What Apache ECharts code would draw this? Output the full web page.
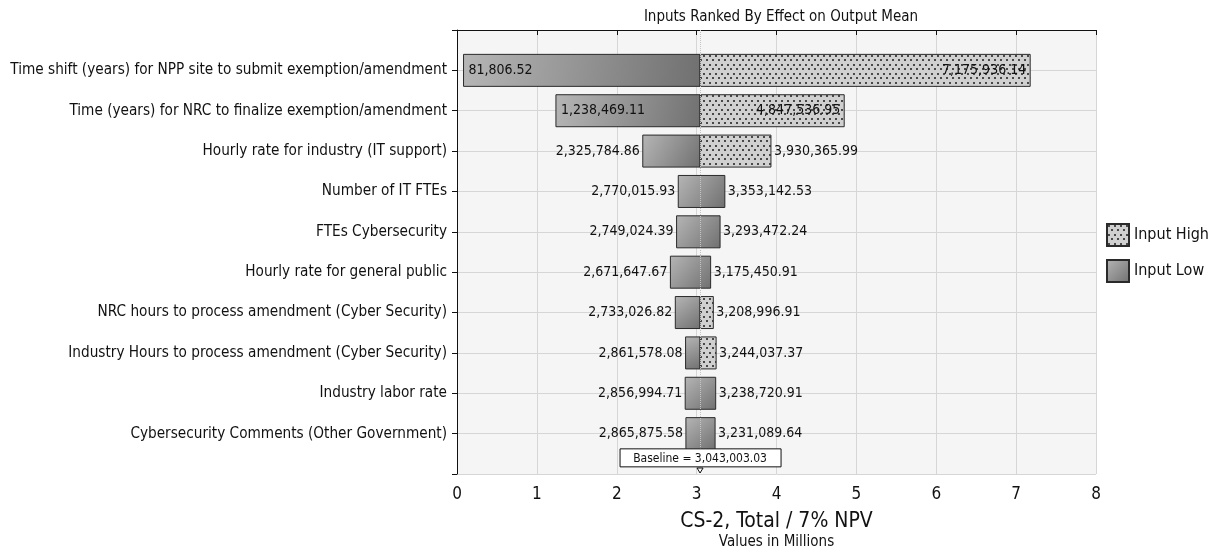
<!DOCTYPE html>
<html>
<head>
<meta charset="utf-8">
<script src="https://cdn.jsdelivr.net/npm/echarts@6/dist/echarts.min.js"></script>
</head>
<body style="margin:0; background:#fff">
<div id="container" style="width:1219px; height:548px;"></div>
<script>
// inputs, top to bottom
var inputNames = [
    'Time shift (years) for NPP site to submit exemption/amendment',
    'Time (years) for NRC to finalize exemption/amendment',
    'Hourly rate for industry (IT support)',
    'Number of IT FTEs',
    'FTEs Cybersecurity',
    'Hourly rate for general public',
    'NRC hours to process amendment (Cyber Security)',
    'Industry Hours to process amendment (Cyber Security)',
    'Industry labor rate',
    'Cybersecurity Comments (Other Government)'
];
var lowValues = [81806.52, 1238469.11, 2325784.86, 2770015.93, 2749024.39,
    2671647.67, 2733026.82, 2861578.08, 2856994.71, 2865875.58];
var highValues = [7175936.14, 4847536.95, 3930365.99, 3353142.53, 3293472.24,
    3175450.91, 3208996.91, 3244037.37, 3238720.91, 3231089.64];
// which input drives the right-hand end of each bar
var rightSide = ['high', 'high', 'high', 'low', 'low', 'low', 'high', 'high', 'low', 'low'];
var baseline = 3043003.03;
var xTicks = [0, 1, 2, 3, 4, 5, 6, 7, 8];

var FONT = '"DejaVu Sans Condensed", "DejaVu Sans", sans-serif';
var dom = document.getElementById('container');
var myChart = echarts.init(dom);

// dotted fill for the "Input High" half
var dots = document.createElement('canvas');
dots.width = 6; dots.height = 9;
var ctx = dots.getContext('2d');
ctx.fillStyle = '#d0d0d0';
ctx.fillRect(0, 0, 6, 9);
ctx.fillStyle = '#484848';
ctx.fillRect(1, 1, 2, 2);
ctx.fillRect(4, 5, 2, 2);
var dotFill = { image: dots, repeat: 'repeat' };
var greyFill = new echarts.graphic.LinearGradient(0, 0, 1, 1, [
    { offset: 0, color: '#b6b6b6' },
    { offset: 1, color: '#707070' }
]);

function m(v) { return v / 1e6; }
function fmt(v) {
    return v.toLocaleString('en-US', { minimumFractionDigits: 2, maximumFractionDigits: 2 });
}

var lowData = [], highData = [], labelData = [];
for (var i = 0; i < inputNames.length; i++) {
    if (rightSide[i] == 'high') {
        lowData.push([i + 1, m(lowValues[i]), m(baseline)]);
        highData.push([i + 1, m(baseline), m(highValues[i])]);
    } else {
        lowData.push([i + 1, m(lowValues[i]), m(highValues[i])]);
    }
    labelData.push([i + 1, m(lowValues[i]), m(highValues[i]), m(baseline)]);
}

function barItem(fill) {
    return function (params, api) {
        var a = api.coord([api.value(1), api.value(0)]);
        var b = api.coord([api.value(2), api.value(0)]);
        var h = 32;
        return {
            type: 'rect',
            shape: { x: a[0], y: a[1] - h / 2, width: b[0] - a[0], height: h },
            style: { fill: fill, stroke: '#2a2a2a', lineWidth: 1 }
        };
    };
}

function labelItem(params, api) {
    var row = api.value(0);
    var lo = api.coord([api.value(1), row]);
    var hi = api.coord([api.value(2), row]);
    var mid = api.coord([api.value(3), row]);
    var loText = fmt(api.value(1) * 1e6);
    var hiText = fmt(api.value(2) * 1e6);
    var loInside = mid[0] - lo[0] > 110;
    var hiInside = hi[0] - mid[0] > 110;
    var st = { fontSize: 14, fontFamily: FONT, fill: '#111', verticalAlign: 'middle' };
    return {
        type: 'group',
        children: [{
            type: 'text',
            x: loInside ? lo[0] + 5 : lo[0] - 3, y: lo[1],
            style: Object.assign({ text: loText, align: loInside ? 'left' : 'right' }, st)
        }, {
            type: 'text',
            x: hiInside ? hi[0] - 4 : hi[0] + 3, y: hi[1],
            style: Object.assign({ text: hiText, align: hiInside ? 'right' : 'left' }, st)
        }]
    };
}

function baselineItem(params, api) {
    var p = api.coord([api.value(0), 10.6]);
    var q = api.coord([api.value(0), 11]);
    return {
        type: 'group',
        children: [{
            type: 'rect',
            shape: { x: p[0] - 80, y: p[1] - 9, width: 161, height: 18 },
            style: { fill: '#fff', stroke: '#111', lineWidth: 1 }
        }, {
            type: 'text', x: p[0], y: p[1] + 1,
            style: { text: 'Baseline = ' + fmt(api.value(0) * 1e6), align: 'center', verticalAlign: 'middle',
                fontSize: 12, fontFamily: FONT, fill: '#111' }
        }, {
            type: 'polygon',
            shape: { points: [[q[0] - 3, q[1] - 6], [q[0] + 3, q[1] - 6], [q[0], q[1] - 1]] },
            style: { fill: '#fff', stroke: '#111', lineWidth: 1 }
        }]
    };
}

var option = {
    animation: false,
    textStyle: { fontFamily: FONT },
    title: {
        text: 'Inputs Ranked By Effect on Output Mean',
        left: 776, top: 5, textAlign: 'center',
        textStyle: { fontSize: 15, fontWeight: 'normal', color: '#111', fontFamily: FONT }
    },
    legend: {
        orient: 'vertical',
        left: 1101, top: 218,
        itemWidth: 22, itemHeight: 22, itemGap: 12,
        icon: 'rect',
        data: ['Input High', 'Input Low'],
        textStyle: { fontSize: 16, color: '#111', fontFamily: FONT }
    },
    grid: { left: 457, right: 123, top: 30, bottom: 74, outerBoundsMode: 'none',
        show: true, backgroundColor: '#f5f5f5', borderWidth: 0 },
    xAxis: {
        type: 'value', min: 0, max: 8, interval: 1,
        axisLine: { show: true, lineStyle: { color: '#111' } },
        axisTick: { show: true, length: 5, lineStyle: { color: '#111' } },
        axisLabel: { fontSize: 17, color: '#111', margin: 12, fontFamily: FONT,
            formatter: function (v) { return xTicks.indexOf(v) >= 0 ? String(v) : ''; } },
        splitLine: { show: true, lineStyle: { color: '#d6d6d6' } },
        name: '{a|CS-2, Total / 7% NPV}\n{b|Values in Millions}',
        nameLocation: 'middle', nameGap: 36,
        nameTextStyle: {
            rich: {
                a: { fontSize: 21, color: '#111', fontFamily: FONT, lineHeight: 24 },
                b: { fontSize: 15, color: '#111', fontFamily: FONT, lineHeight: 17 }
            }
        }
    },
    yAxis: {
        type: 'value', min: 0, max: 11, interval: 1, inverse: true,
        axisLine: { show: true, lineStyle: { color: '#111' } },
        axisTick: { show: true, length: 5, lineStyle: { color: '#111' } },
        axisLabel: { fontSize: 15.2, color: '#111', margin: 10, fontFamily: FONT,
            formatter: function (v) { return inputNames[v - 1] || ''; } },
        splitLine: { show: true, lineStyle: { color: '#d6d6d6' } }
    },
    series: [{
        name: 'Input Low', type: 'custom',
        renderItem: barItem(greyFill),
        itemStyle: { color: greyFill, borderColor: '#2a2a2a', borderWidth: 1 },
        encode: { x: [1, 2], y: 0 },
        data: lowData,
        markLine: {
            silent: true, symbol: 'none', label: { show: false },
            lineStyle: { color: '#c4c4c4', type: 'dotted', width: 1 },
            data: [{ xAxis: m(baseline) }]
        },
        z: 3
    }, {
        name: 'Input High', type: 'custom',
        renderItem: barItem(dotFill),
        itemStyle: { color: dotFill, borderColor: '#2a2a2a', borderWidth: 1 },
        encode: { x: [1, 2], y: 0 },
        data: highData,
        z: 3
    }, {
        name: 'labels', type: 'custom', silent: true,
        renderItem: labelItem,
        encode: { x: [1, 2], y: 0 },
        data: labelData,
        z: 5
    }, {
        name: 'baseline', type: 'custom', silent: true,
        renderItem: baselineItem,
        encode: { x: 0 },
        data: [[m(baseline)]],
        clip: false,
        z: 6
    }]
};
myChart.setOption(option);
</script>
</body>
</html>
